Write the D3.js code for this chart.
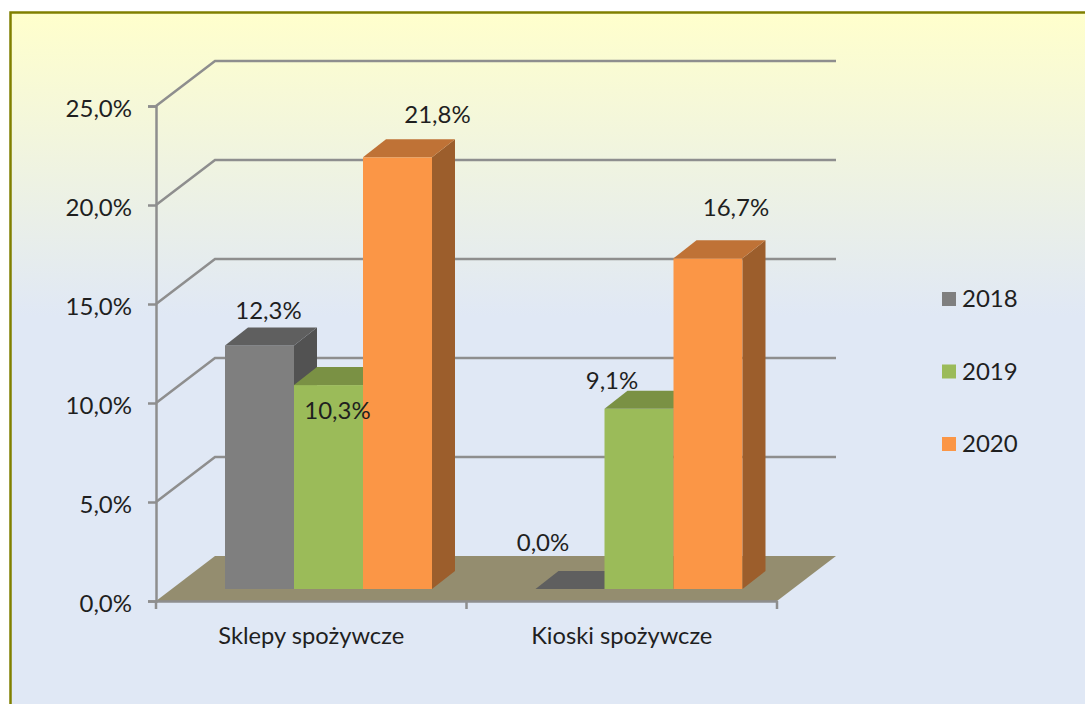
<!DOCTYPE html>
<html>
<head>
<meta charset="utf-8">
<title>Sklepy i kioski</title>
<script src="https://d3js.org/d3.v7.min.js"></script>
<style>
  body { margin: 0; background: #fff; }
  svg { display: block; }
  text { font-family: Lato, "Noto Sans", sans-serif; fill: #1f1f1f; }
</style>
</head>
<body>
<div id="wrapper"></div>
<script>
  var categories = ["Sklepy spożywcze", "Kioski spożywcze"];
  var years = ["2018", "2019", "2020"];
  var values2018 = [12.3, 0.0];
  var values2019 = [10.3, 9.1];
  var values2020 = [21.8, 16.7];
  var yTicks = [0, 5, 10, 15, 20, 25];

  var seriesValues = [values2018, values2019, values2020];
  var front = ["#7f7f7f", "#9bbb59", "#fb9646"];
  var topFace = ["#5f5f5f", "#7a9144", "#bf7236"];
  var sideFace = ["#525252", "#6a7e3b", "#9c5e2c"];

  // label shift from the bar's top centre, by [series][category]
  var labelShift = [
    [[9, -35], [-27, -46]],
    [[9, 26], [-27, -28]],
    [[40, -43], [28, -51]]
  ];

  var width = 1085, height = 704;
  var fontSize = 24;
  var gridColor = "#8e8e8e";

  // Set up the 3d box
  var wallDx = 59, wallDy = -45;
  var barDx = 23, barDy = -18;

  var xScale = d3.scaleBand().domain(categories).range([156, 777]);
  var yScale = d3.scaleLinear().domain([0, 25]).range([601, 106]);
  // bars sit a bit behind the front edge of the floor
  var barBase = 589;
  var barH = function(v) { return yScale(0) - yScale(v); };
  var seriesScale = d3.scaleBand().domain(years).range([69, 276]);

  var svg = d3.select("#wrapper").append("svg")
    .attr("width", width)
    .attr("height", height);

  var grad = svg.append("defs").append("linearGradient")
    .attr("id", "bg")
    .attr("x1", 0).attr("y1", 0).attr("x2", 0).attr("y2", 1);
  grad.append("stop").attr("offset", "0%").attr("stop-color", "#ffffcc");
  grad.append("stop").attr("offset", "43%").attr("stop-color", "#e0e8f5");
  grad.append("stop").attr("offset", "100%").attr("stop-color", "#e0e8f5");

  svg.append("rect")
    .attr("x", 10.5).attr("y", 12.5)
    .attr("width", width).attr("height", height)
    .attr("fill", "url(#bg)")
    .attr("stroke", "#808000")
    .attr("stroke-width", 2.5);

  // Back wall lines
  var x0 = xScale.range()[0], x1 = xScale.range()[1];
  svg.append("g").selectAll("path")
    .data(yTicks.slice(1))
    .enter().append("path")
    .attr("d", function(t) {
      var y = yScale(t);
      return d3.line()([[x0, y], [x0 + wallDx, y + wallDy], [x1 + wallDx, y + wallDy]]);
    })
    .attr("fill", "none")
    .attr("stroke", gridColor)
    .attr("stroke-width", 2.5);

  // Floor
  svg.append("path")
    .attr("d", d3.line()([
      [x0, yScale(0)], [x1, yScale(0)],
      [x1 + wallDx, yScale(0) + wallDy], [x0 + wallDx, yScale(0) + wallDy]
    ]) + "Z")
    .attr("fill", "#948d6f");

  // Axes
  var yAxis = d3.axisLeft(yScale)
    .tickValues(yTicks)
    .tickSize(8)
    .tickPadding(16)
    .tickFormat(function(t) { return t.toFixed(1).replace(".", ",") + "%"; });
  var plotYAxis = svg.append("g")
    .attr("transform", "translate(" + x0 + ",0)")
    .call(yAxis);

  var xAxis = d3.axisBottom(xScale)
    .tickSize(0)
    .tickPadding(26);
  var plotXAxis = svg.append("g")
    .attr("transform", "translate(0," + yScale(0) + ")")
    .call(xAxis);

  // ticks between the categories
  svg.append("g").selectAll("line")
    .data([x0, x0 + xScale.bandwidth(), x1])
    .enter().append("line")
    .attr("x1", function(d) { return d; })
    .attr("x2", function(d) { return d; })
    .attr("y1", yScale(0))
    .attr("y2", yScale(0) + 8)
    .attr("stroke", gridColor)
    .attr("stroke-width", 2.5);

  [plotYAxis, plotXAxis].forEach(function(ax) {
    ax.selectAll("text").style("font-size", fontSize + "px").attr("fill", null);
    ax.selectAll("line, path").attr("stroke", gridColor).attr("stroke-width", 2.5);
    ax.attr("font-family", null);
  });
  plotYAxis.selectAll("text").attr("dy", "0.42em");
  plotXAxis.selectAll("text").style("font-size", (fontSize - 0.3) + "px");

  // Bars, drawn left to right so each one covers the side of the previous
  var labels = [];
  categories.forEach(function(cat, c) {
    years.forEach(function(year, s) {
      var v = seriesValues[s][c];
      var x = xScale(cat) + seriesScale(year);
      var w = seriesScale.bandwidth();
      var h = barH(v);
      var yTop = barBase - h;
      var g = svg.append("g");

      if (h > 0) {
        g.append("rect")
          .attr("x", x).attr("y", yTop)
          .attr("width", w).attr("height", h)
          .attr("fill", front[s]);
        g.append("path")
          .attr("d", d3.line()([
            [x + w, yTop], [x + w + barDx, yTop + barDy],
            [x + w + barDx, barBase + barDy], [x + w, barBase]
          ]) + "Z")
          .attr("fill", sideFace[s]);
      }
      g.append("path")
        .attr("d", d3.line()([
          [x, yTop], [x + w, yTop],
          [x + w + barDx, yTop + barDy], [x + barDx, yTop + barDy]
        ]) + "Z")
        .attr("fill", topFace[s]);

      labels.push({
        text: v.toFixed(1).replace(".", ",") + "%",
        x: x + w / 2 + labelShift[s][c][0],
        y: yTop + labelShift[s][c][1]
      });
    });
  });

  svg.append("g").selectAll("text")
    .data(labels)
    .enter().append("text")
    .attr("x", function(d) { return d.x; })
    .attr("y", function(d) { return d.y; })
    .attr("dy", "0.35em")
    .attr("text-anchor", "middle")
    .style("font-size", fontSize + "px")
    .text(function(d) { return d.text; });

  // Legend
  var legendY = d3.scalePoint().domain(years).range([299, 444]);
  var legend = svg.append("g").selectAll("g")
    .data(years)
    .enter().append("g")
    .attr("transform", function(d) { return "translate(942," + legendY(d) + ")"; });
  legend.append("rect")
    .attr("x", 0).attr("y", -7)
    .attr("width", 14).attr("height", 14)
    .attr("fill", function(d, i) { return front[i]; });
  legend.append("text")
    .attr("x", 20)
    .attr("dy", "0.35em")
    .style("font-size", fontSize + "px")
    .text(function(d) { return d; });
</script>
</body>
</html>
